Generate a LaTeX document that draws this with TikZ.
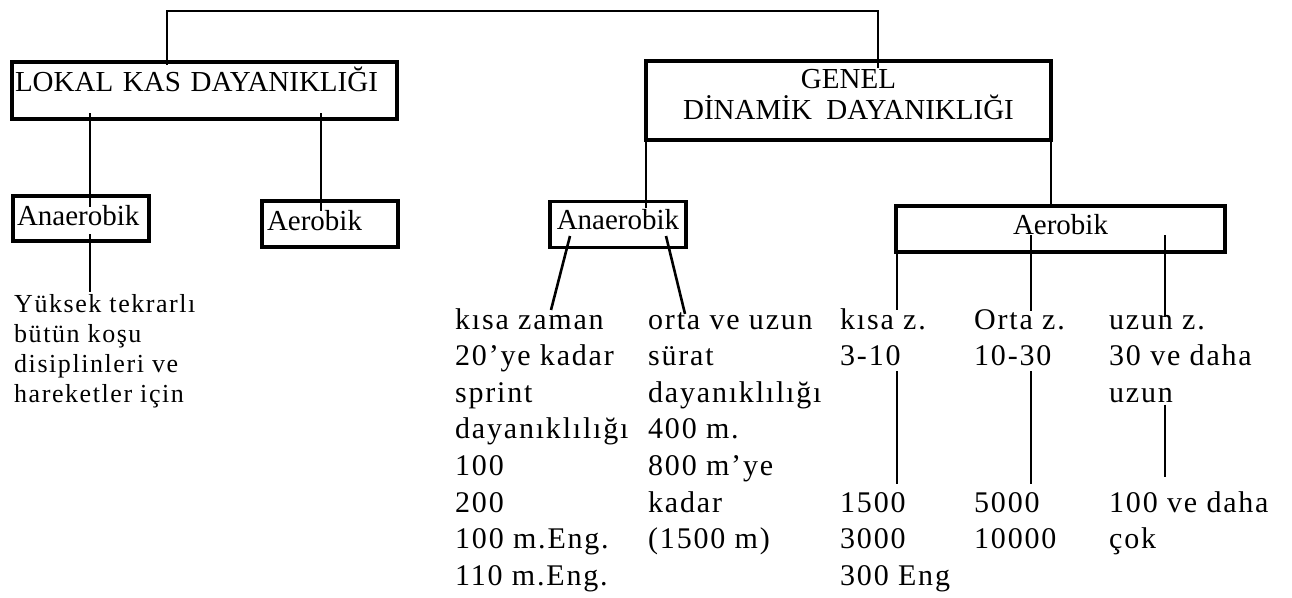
\documentclass[tikz,border=0pt]{standalone}
\usepackage{fontspec}
\setmainfont{Liberation Serif}
\newfontfamily\spaced{Liberation Serif}[LetterSpace=6]
\usetikzlibrary{calc}

\begin{document}
\begin{tikzpicture}[
        x=1pt, y=-1pt,
        box/.style={rectangle, draw, line width=3.5pt, inner sep=0pt, outer sep=0pt, font=\fontsize{29}{31}\selectfont},
        linebox/.style={box, text height=20pt, text depth=#1},
        linebox/.default=8pt,
        column/.style={anchor=base west, align=left, inner sep=0pt, font=\spaced\fontsize{30}{36.6}\selectfont},
        note/.style={anchor=base west, align=left, inner sep=0pt, font=\spaced\fontsize{26}{30}\selectfont},
        link/.style={line width=2.6pt}
    ]
        \useasboundingbox (0,0) rectangle (1292,597);

        % the two kinds of endurance
        \node (lokal) [linebox=19pt, minimum width=385pt, minimum height=57pt, text width=379pt, align=left] at (204.5,90.5) {LOKAL KAS DAYANIKLIĞI};
        \node (genel) [box, minimum width=405pt, minimum height=79pt, align=center] at (848.5,100.5) {GENEL\\DİNAMİK~~DAYANIKLIĞI\rule[-12pt]{0pt}{0pt}};

        % second level
        \node (anaL) [linebox=7pt, minimum width=136pt, minimum height=45pt, text width=128pt, align=left] at (81,218.5) {Anaerobik};
        \node (aerL) [linebox, minimum width=136pt, minimum height=46pt, text width=126pt, align=left] at (330,224) {Aerobik};
        \node (anaR) [linebox=11pt, minimum width=136pt, minimum height=46pt] at (618,224.5) {Anaerobik};
        \node (aerR) [linebox=10pt, minimum width=329pt, minimum height=46pt] at (1060.5,229) {Aerobik};

        % leaves (placed by the baseline of their last line)
        \node (yuksek) [note] at (14,402) {Yüksek tekrarlı\\bütün koşu\\disiplinleri ve\\hareketler için};
        \node (sprint) [column] at (455,585.2) {kısa zaman\\20’ye kadar\\sprint\\dayanıklılığı\\100\\200\\100 m.Eng.\\110 m.Eng.};
        \node (surat) [column] at (648,548.6) {orta ve uzun\\sürat\\dayanıklılığı\\400 m.\\800 m’ye\\kadar\\(1500 m)};
        \node (kisa) [column] at (840,365.6) {kısa z.\\3-10};
        \node (kisaM) [column] at (840,585.2) {1500\\3000\\300 Eng};
        \node (orta) [column] at (974,365.6) {Orta z.\\10-30};
        \node (ortaM) [column] at (974,548.6) {5000\\10000};
        \node (uzun) [column] at (1109,402.2) {uzun z.\\30 ve daha\\uzun};
        \node (uzunM) [column] at (1109,548.6) {100 ve daha\\çok};

        \draw [link, line width=2.2pt] ([yshift=-3pt]lokal.north -| 167,0) -- ++(0,-54) -| ([yshift=-7pt]genel.north -| 878,0);
        \draw [link] ([yshift=6pt]lokal.south -| 90,0) -- ([yshift=-11pt]anaL.north -| 90,0);
        \draw [link] ([yshift=6pt]lokal.south -| 321,0) -- ([yshift=-10pt]aerL.north -| 321,0);
        \draw [link] ([yshift=7pt]anaL.south -| 90,0) -- ([yshift=2pt]yuksek.north -| 90,0);
        \draw [link] ([yshift=8pt]genel.south west) -- ([yshift=-6.5pt]anaR.north -| genel.west);
        \draw [link] ([yshift=7pt]genel.south east) -- ([yshift=-2pt]aerR.north -| genel.east);
        \draw [link] ([xshift=20pt,yshift=11.5pt]anaR.south west) -- ([yshift=-2pt]sprint.north -| 551,0);
        \draw [link] ([xshift=-20pt,yshift=11.5pt]anaR.south east) -- ([yshift=-2pt]surat.north -| 685,0);
        \draw [link] ([yshift=17pt]aerR.south -| 897,0) -- ([yshift=-2pt]kisa.north -| 897,0);
        \draw [link] ([yshift=17pt]aerR.south -| 1031,0) -- ([yshift=-2pt]orta.north -| 1031,0);
        \draw [link] ([yshift=17pt]aerR.south -| 1165,0) -- ([yshift=-2pt]uzun.north -| 1165,0);
        \draw [link] ([yshift=-5pt]kisa.south -| 897,0) -- ([yshift=8pt]kisaM.north -| 897,0);
        \draw [link] ([yshift=-5pt]orta.south -| 1031,0) -- ([yshift=8pt]ortaM.north -| 1031,0);
        \draw [link] ([yshift=-2pt]uzun.south -| 1165,0) -- ([yshift=14pt]uzunM.north -| 1165,0);
\end{tikzpicture}
\end{document}
